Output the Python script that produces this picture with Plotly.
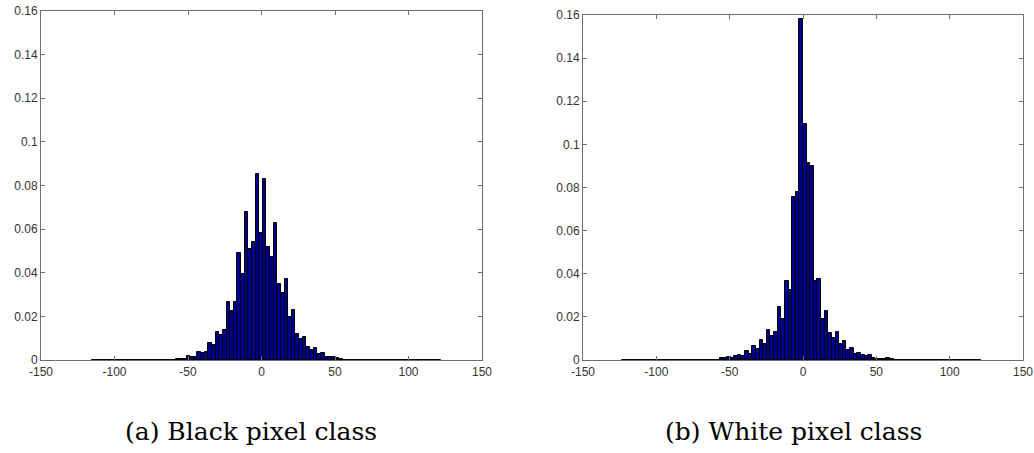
import numpy as np
import plotly.graph_objects as go

# histogram bins (shared bin width, different data ranges)
bin_width = 2.47
black_start = -115.2
white_start = -123.5

# relative frequencies, black pixel class (96 bins)
black_freq = ([0.0002] * 23 +
              [0.0003, 0.0006, 0.0006, 0.0018, 0.0012, 0.0015, 0.0035, 0.003, 0.0038,
               0.0078, 0.0069, 0.0127, 0.0115, 0.0138, 0.0267, 0.0225, 0.0267, 0.049,
               0.0393, 0.068, 0.051, 0.0543, 0.0853, 0.058, 0.083, 0.052, 0.047,
               0.0627, 0.035, 0.0306, 0.037, 0.0199, 0.023, 0.012, 0.0096, 0.0107,
               0.0058, 0.0046, 0.0054, 0.0026, 0.003, 0.0015, 0.0012, 0.0012, 0.0008,
               0.0006] +
              [0.0002] * 27)

# relative frequencies, white pixel class (99 bins)
white_freq = ([0.0002] * 27 +
              [0.0007, 0.001, 0.0015, 0.001, 0.0018, 0.0021, 0.0018, 0.0041, 0.003,
               0.0064, 0.0049, 0.0095, 0.0076, 0.0141, 0.0113, 0.013, 0.0246, 0.0191,
               0.0365, 0.0326, 0.0755, 0.0781, 0.158, 0.1093, 0.0913, 0.0902, 0.0365,
               0.0376, 0.0188, 0.0226, 0.0123, 0.0103, 0.0129, 0.0072, 0.0087, 0.0045,
               0.0056, 0.003, 0.0033, 0.0021, 0.0018, 0.0021, 0.001, 0.0006, 0.0006,
               0.0006, 0.0008, 0.0003] +
              [0.0002] * 24)

x_ticks = [-150, -100, -50, 0, 50, 100, 150]
x_labels = ["-150", "-100", "-50", "0", "50", "100", "150"]
y_ticks = [0, 0.02, 0.04, 0.06, 0.08, 0.1, 0.12, 0.14, 0.16]
y_labels = ["0", "0.02", "0.04", "0.06", "0.08", "0.1", "0.12", "0.14", "0.16"]
captions = ["(a) Black pixel class", "(b) White pixel class"]


def centers(start, n):
    return start + (np.arange(n) + 0.5) * bin_width


W, H = 1034, 453

fig = go.Figure()
fig.add_trace(go.Bar(x=centers(black_start, len(black_freq)), y=black_freq, width=bin_width,
                     marker=dict(color="rgb(0,0,143)", line=dict(color="black", width=1)),
                     xaxis="x", yaxis="y"))
fig.add_trace(go.Bar(x=centers(white_start, len(white_freq)), y=white_freq, width=bin_width,
                     marker=dict(color="rgb(0,0,143)", line=dict(color="black", width=1)),
                     xaxis="x2", yaxis="y2"))

axis_style = dict(showline=True, linecolor="rgb(110,110,110)", linewidth=1, mirror="ticks",
                  ticks="inside", ticklen=4, tickcolor="rgb(110,110,110)", showgrid=False,
                  zeroline=False, automargin=False,
                  tickfont=dict(family="Liberation Sans", size=12, color="#333"))

fig.update_layout(
    width=W, height=H, margin=dict(l=0, r=0, t=0, b=0),
    paper_bgcolor="white", plot_bgcolor="white", showlegend=False, bargap=0,
    xaxis=dict(domain=[41 / W, 482 / W], range=[-150, 150], tickvals=x_ticks,
               ticktext=x_labels, anchor="y", ticklabelstandoff=1, **axis_style),
    yaxis=dict(domain=[93 / H, 442 / H], range=[0, 0.16], tickvals=y_ticks,
               ticktext=y_labels, anchor="x", **axis_style),
    xaxis2=dict(domain=[583 / W, 1023 / W], range=[-150, 150], tickvals=x_ticks,
                ticktext=x_labels, anchor="y2", ticklabelstandoff=1, **axis_style),
    yaxis2=dict(domain=[93 / H, 438 / H], range=[0, 0.16], tickvals=y_ticks,
                ticktext=y_labels, anchor="x2", **axis_style),
)

for xpos, text in zip([251 / W, 793 / W], captions):
    fig.add_annotation(x=xpos, y=22 / H, xref="paper", yref="paper", text=text,
                       showarrow=False, xanchor="center", yanchor="middle",
                       font=dict(family="DejaVu Serif", size=25, color="black"))

# drop the default 8px page margin so the figure fills the window
fig.write_html("out.html", config={"displayModeBar": False},
               post_script="document.body.style.margin='0';")
